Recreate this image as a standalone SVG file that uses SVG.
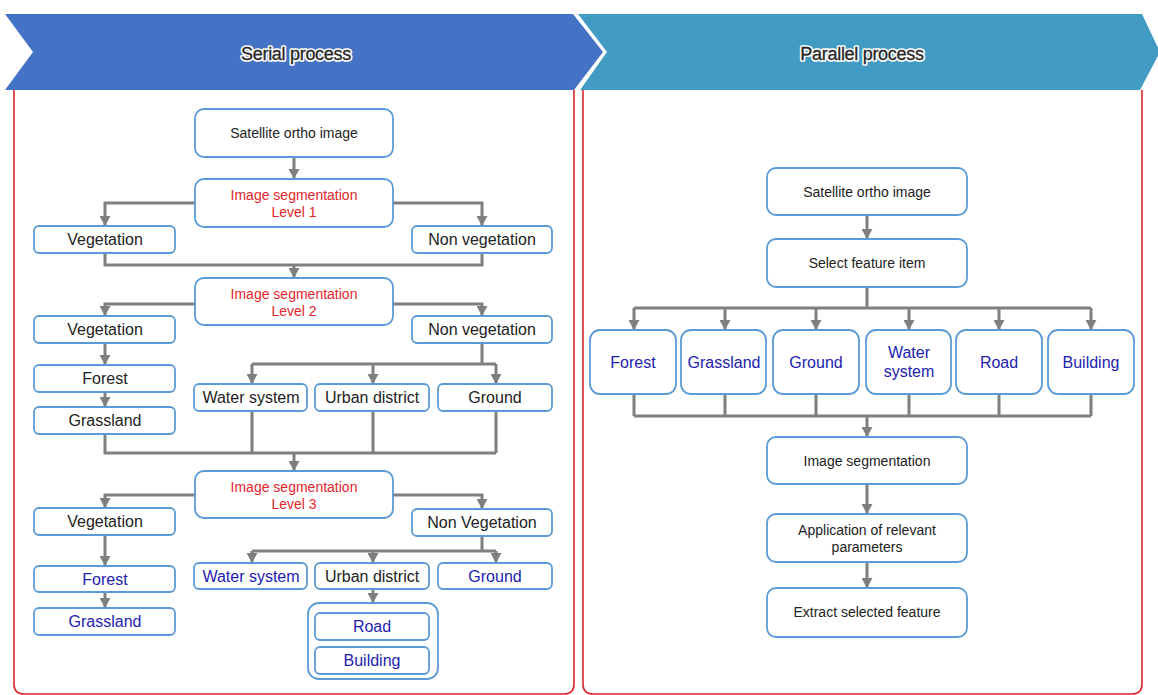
<svg xmlns="http://www.w3.org/2000/svg" width="1158" height="695" viewBox="0 0 1158 695">
<style>
.n{fill:#fff;stroke:#5B9BD5;stroke-width:1.8}
.t{font-family:"Liberation Sans",Arial,sans-serif;text-anchor:middle;dominant-baseline:central}
.s13{font-size:14px;fill:#222}
.r13{font-size:14px;fill:#E3262C}
.d16{font-size:16px;fill:#222}
.b16{font-size:16px;fill:#2222B0}
.h{font-family:"Liberation Sans",Arial,sans-serif;font-size:18px;text-anchor:middle;dominant-baseline:central;letter-spacing:-0.3px}
.halo{fill:#fff;stroke:#fff;stroke-width:3.6;stroke-linejoin:round}
.hf{fill:#262626;stroke:#262626;stroke-width:0.3}
.c path{fill:none;stroke:#7F7F7F;stroke-width:3}
.a{marker-end:url(#ah)}
.panel{fill:none;stroke:#D9262B;stroke-width:1.6}
</style>
<defs>
<marker id="ah" markerUnits="userSpaceOnUse" markerWidth="11" markerHeight="11" refX="10" refY="5.5" orient="auto" viewBox="0 0 11 11">
<path d="M0,0 L10,5.5 L0,11 z" fill="#7F7F7F"/>
</marker>
</defs>
<rect width="1158" height="695" fill="#fff"/>
<g id="header">
<polygon points="5,14 573,14 603,52 574,90 5,90 33,52" fill="#4472C4"/>
<polygon points="578,14 1142,14 1160,52 1140,90 580,90 607,52" fill="#429BC3"/>
<text class="h halo" x="296" y="54">Serial process</text>
<text class="h hf" x="296" y="54">Serial process</text>
<text class="h halo" x="862" y="54">Parallel process</text>
<text class="h hf" x="862" y="54">Parallel process</text>
</g>
<g id="panels">
<path class="panel" d="M14,90 V684 Q14,694 24,694 H564 Q574,694 574,684 V90"/>
<path class="panel" d="M583,90 V684 Q583,694 593,694 H1132 Q1142,694 1142,684 V90"/>
</g>
<g class="c" id="connectors">
<path class="a" d="M294,157 V179"/>
<path class="a" d="M195,203 H105 V226"/>
<path class="a" d="M393,203 H482 V226"/>
<path d="M105,252 V265 H482 V252"/>
<path class="a" d="M294,265 V278"/>
<path class="a" d="M195,304 H105 V316"/>
<path class="a" d="M393,304 H482 V316"/>
<path class="a" d="M105,343 V365"/>
<path class="a" d="M105,392 V407"/>
<path d="M482,343 V364 M252,364 H496"/>
<path class="a" d="M252,364 V384"/>
<path class="a" d="M373,364 V384"/>
<path class="a" d="M496,364 V384"/>
<path d="M105,434 V453 H496 M252,411 V453 M373,411 V453 M496,411 V453"/>
<path class="a" d="M294,453 V471"/>
<path class="a" d="M195,495 H105 V508"/>
<path class="a" d="M393,495 H482 V509"/>
<path class="a" d="M105,535 V566"/>
<path class="a" d="M105,592 V608"/>
<path d="M482,536 V551 M252,551 H496"/>
<path class="a" d="M252,551 V563"/>
<path class="a" d="M373,551 V563"/>
<path class="a" d="M496,551 V563"/>
<path class="a" d="M373,589 V603"/>
<path class="a" d="M867,215 V239"/>
<path d="M867,287 V308 M634,308 H1091"/>
<path class="a" d="M634,308 V330"/>
<path class="a" d="M725,308 V330"/>
<path class="a" d="M816,308 V330"/>
<path class="a" d="M909,308 V330"/>
<path class="a" d="M999,308 V330"/>
<path class="a" d="M1091,308 V330"/>
<path d="M634,394 V416 M725,394 V416 M816,394 V416 M909,394 V416 M999,394 V416 M1091,394 V416 M634,416 H1091"/>
<path class="a" d="M867,416 V437"/>
<path class="a" d="M867,484 V514"/>
<path class="a" d="M867,562 V588"/>
</g>
<g id="s-sat"><rect class="n" x="195" y="109" width="198" height="48" rx="9"/><text class="t s13" x="294" y="133">Satellite ortho image</text></g>
<g id="s-seg1"><rect class="n" x="195" y="179" width="198" height="48" rx="9"/><text class="t r13" x="294" y="195">Image segmentation</text><text class="t r13" x="294" y="212">Level 1</text></g>
<g id="s-veg1"><rect class="n" x="34" y="226" width="141" height="27" rx="5"/><text class="t d16" x="105" y="239.5">Vegetation</text></g>
<g id="s-nonveg1"><rect class="n" x="412" y="226" width="140" height="27" rx="5"/><text class="t d16" x="482" y="239.5">Non vegetation</text></g>
<g id="s-seg2"><rect class="n" x="195" y="278" width="198" height="47" rx="9"/><text class="t r13" x="294" y="294">Image segmentation</text><text class="t r13" x="294" y="311">Level 2</text></g>
<g id="s-veg2"><rect class="n" x="34" y="316" width="141" height="27" rx="5"/><text class="t d16" x="105" y="329.5">Vegetation</text></g>
<g id="s-nonveg2"><rect class="n" x="412" y="316" width="140" height="27" rx="5"/><text class="t d16" x="482" y="329.5">Non vegetation</text></g>
<g id="s-forest2"><rect class="n" x="34" y="365" width="141" height="27" rx="5"/><text class="t d16" x="105" y="378.5">Forest</text></g>
<g id="s-grass2"><rect class="n" x="34" y="407" width="141" height="27" rx="5"/><text class="t d16" x="105" y="420.5">Grassland</text></g>
<g id="s-water2"><rect class="n" x="194" y="384" width="113" height="27" rx="5"/><text class="t d16" x="251" y="397.5">Water system</text></g>
<g id="s-urban2"><rect class="n" x="315" y="384" width="114" height="27" rx="5"/><text class="t d16" x="372" y="397.5">Urban district</text></g>
<g id="s-ground2"><rect class="n" x="438" y="384" width="114" height="27" rx="5"/><text class="t d16" x="495" y="397.5">Ground</text></g>
<g id="s-seg3"><rect class="n" x="195" y="471" width="198" height="47" rx="9"/><text class="t r13" x="294" y="487">Image segmentation</text><text class="t r13" x="294" y="504">Level 3</text></g>
<g id="s-veg3"><rect class="n" x="34" y="508" width="141" height="27" rx="5"/><text class="t d16" x="105" y="521.5">Vegetation</text></g>
<g id="s-nonveg3"><rect class="n" x="412" y="509" width="140" height="27" rx="5"/><text class="t d16" x="482" y="522.5">Non Vegetation</text></g>
<g id="s-forest3"><rect class="n" x="34" y="566" width="141" height="26" rx="5"/><text class="t b16" x="105" y="579">Forest</text></g>
<g id="s-grass3"><rect class="n" x="34" y="608" width="141" height="27" rx="5"/><text class="t b16" x="105" y="621.5">Grassland</text></g>
<g id="s-water3"><rect class="n" x="194" y="563" width="113" height="26" rx="5"/><text class="t b16" x="251" y="576">Water system</text></g>
<g id="s-urban3"><rect class="n" x="315" y="563" width="114" height="26" rx="5"/><text class="t d16" x="372" y="576">Urban district</text></g>
<g id="s-ground3"><rect class="n" x="438" y="563" width="114" height="26" rx="5"/><text class="t b16" x="495" y="576">Ground</text></g>
<g id="s-urbangroup"><rect class="n" x="308" y="603" width="130" height="76" rx="11"/></g>
<g id="s-road"><rect class="n" x="315" y="613" width="114" height="27" rx="5"/><text class="t b16" x="372" y="626.5">Road</text></g>
<g id="s-building"><rect class="n" x="315" y="647" width="114" height="27" rx="5"/><text class="t b16" x="372" y="660.5">Building</text></g>
<g id="p-sat"><rect class="n" x="767" y="168" width="200" height="47" rx="9"/><text class="t s13" x="867" y="192">Satellite ortho image</text></g>
<g id="p-select"><rect class="n" x="767" y="239" width="200" height="48" rx="9"/><text class="t s13" x="867" y="263">Select feature item</text></g>
<g id="p-forest"><rect class="n" x="590" y="330" width="86" height="64" rx="10"/><text class="t b16" x="633" y="362">Forest</text></g>
<g id="p-grass"><rect class="n" x="681" y="330" width="85" height="64" rx="10"/><text class="t b16" x="724" y="362">Grassland</text></g>
<g id="p-ground"><rect class="n" x="773" y="330" width="86" height="64" rx="10"/><text class="t b16" x="816" y="362">Ground</text></g>
<g id="p-water"><rect class="n" x="866" y="330" width="85" height="64" rx="10"/><text class="t b16" x="909" y="352">Water</text><text class="t b16" x="909" y="371">system</text></g>
<g id="p-road"><rect class="n" x="956" y="330" width="86" height="64" rx="10"/><text class="t b16" x="999" y="362">Road</text></g>
<g id="p-building"><rect class="n" x="1048" y="330" width="86" height="64" rx="10"/><text class="t b16" x="1091" y="362">Building</text></g>
<g id="p-seg"><rect class="n" x="767" y="437" width="200" height="47" rx="9"/><text class="t s13" x="867" y="461">Image segmentation</text></g>
<g id="p-app"><rect class="n" x="767" y="514" width="200" height="48" rx="9"/><text class="t s13" x="867" y="530">Application of relevant</text><text class="t s13" x="867" y="547">parameters</text></g>
<g id="p-extract"><rect class="n" x="767" y="588" width="200" height="49" rx="9"/><text class="t s13" x="867" y="612">Extract selected feature</text></g>
</svg>
